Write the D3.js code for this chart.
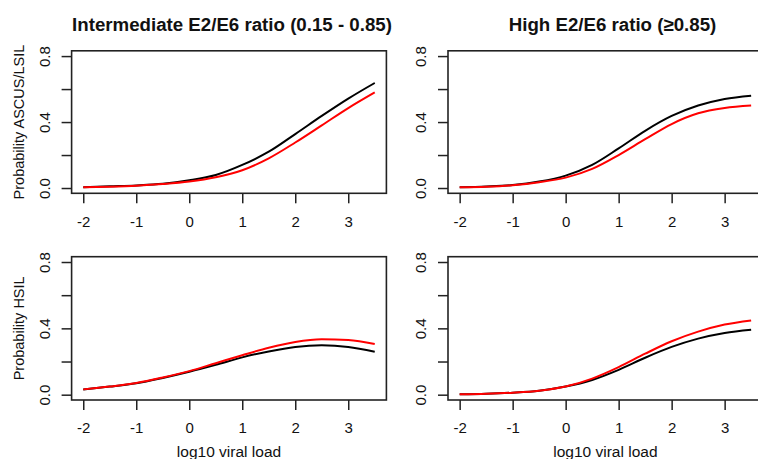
<!DOCTYPE html>
<html>
<head>
<meta charset="utf-8">
<script src="https://cdn.jsdelivr.net/npm/d3@7.9.0/dist/d3.min.js"></script>
<style>
  body { margin: 0; background: #fff; }
  svg { display: block; font-family: "Liberation Sans", Arial, sans-serif; }
</style>
</head>
<body>
<div id="chart"></div>
<script>
// Values, x = log10 viral load
const xValues = [-2, -1.5, -1, -0.5, 0, 0.5, 1, 1.5, 2, 2.5, 3, 3.5];
const xTicks = [-2, -1, 0, 1, 2, 3];
const yTicks = [0, 0.2, 0.4, 0.6, 0.8];
const yLabelled = [0, 0.4, 0.8];

const titles = ['Intermediate E2/E6 ratio (0.15 - 0.85)', 'High E2/E6 ratio (\u22650.85)'];
const rowLabels = ['Probability ASCUS/LSIL', 'Probability HSIL'];
const xLabel = 'log10 viral load';

// ASCUS/LSIL
const ascusInterBlack = [0.004, 0.010, 0.016, 0.026, 0.047, 0.079, 0.140, 0.220, 0.327, 0.437, 0.542, 0.637];
const ascusInterRed   = [0.004, 0.008, 0.014, 0.024, 0.039, 0.065, 0.108, 0.180, 0.276, 0.380, 0.485, 0.580];
const ascusHighBlack  = [0.004, 0.009, 0.018, 0.039, 0.075, 0.140, 0.240, 0.347, 0.437, 0.500, 0.540, 0.560];
const ascusHighRed    = [0.004, 0.008, 0.017, 0.035, 0.063, 0.116, 0.200, 0.296, 0.388, 0.453, 0.485, 0.500];
// HSIL
const hsilInterBlack  = [0.032, 0.049, 0.069, 0.101, 0.138, 0.180, 0.225, 0.261, 0.288, 0.298, 0.288, 0.259];
const hsilInterRed    = [0.032, 0.049, 0.071, 0.104, 0.142, 0.190, 0.238, 0.283, 0.318, 0.334, 0.330, 0.306];
const hsilHighBlack   = [0.002, 0.005, 0.012, 0.024, 0.049, 0.089, 0.150, 0.223, 0.288, 0.338, 0.372, 0.391];
const hsilHighRed     = [0.002, 0.005, 0.012, 0.024, 0.049, 0.097, 0.166, 0.247, 0.322, 0.380, 0.423, 0.448];

const panels = [
  { row: 0, col: 0, black: ascusInterBlack, red: ascusInterRed },
  { row: 0, col: 1, black: ascusHighBlack, red: ascusHighRed },
  { row: 1, col: 0, black: hsilInterBlack, red: hsilInterRed },
  { row: 1, col: 1, black: hsilHighBlack, red: hsilHighRed },
];

const width = 758;
const height = 459;

// plot regions (R style: 4% padding around data range)
const cols = [{ left: 71.6, right: 386.4, titleX: 232 }, { left: 448, right: 762.8, titleX: 612.5 }];
const rows = [{ top: 50.8, bottom: 193.3 }, { top: 256.7, bottom: 400 }];

const svg = d3.select('#chart')
  .append('svg')
  .attr('width', width)
  .attr('height', height);

panels.forEach((p) => {
  const c = cols[p.col];
  const r = rows[p.row];

  const x = d3.scaleLinear().domain([-2.22, 3.72]).range([c.left, c.right]);
  const y = d3.scaleLinear().domain([-0.032, 0.832]).range([r.bottom, r.top]);

  const g = svg.append('g');

  // x axis
  const xAxis = g.append('g')
    .attr('transform', `translate(0, ${r.bottom})`)
    .call(d3.axisBottom(x).tickValues(xTicks).tickSize(10).tickSizeOuter(0).tickFormat(d3.format('d')));
  xAxis.select('.domain').remove();
  xAxis.selectAll('line').attr('stroke', '#222').attr('stroke-width', 1.5);
  xAxis.selectAll('text')
    .attr('y', 28).attr('dy', '0.35em')
    .attr('fill', '#111')
    .style('font-size', '15px')
    .text((d) => d < 0 ? '-' + Math.abs(d) : d);

  // y axis
  const yAxis = g.append('g')
    .attr('transform', `translate(${c.left}, 0)`)
    .call(d3.axisLeft(y).tickValues(yTicks).tickSize(10).tickSizeOuter(0)
      .tickFormat((d) => yLabelled.includes(d) ? d3.format('.1f')(d) : ''));
  yAxis.select('.domain').remove();
  yAxis.selectAll('line').attr('stroke', '#222').attr('stroke-width', 1.5);
  yAxis.selectAll('text')
    .attr('x', null).attr('dy', '0.35em')
    .attr('text-anchor', 'middle')
    .attr('transform', 'translate(-27, 0) rotate(-90)')
    .attr('fill', '#111')
    .style('font-size', '15px');

  // curves
  const line = d3.line()
    .x((d, i) => x(xValues[i]))
    .y((d) => y(d))
    .curve(d3.curveMonotoneX);

  g.append('path')
    .datum(p.black)
    .attr('d', line)
    .attr('fill', 'none')
    .attr('stroke', '#000')
    .attr('stroke-width', 2);

  g.append('path')
    .datum(p.red)
    .attr('d', line)
    .attr('fill', 'none')
    .attr('stroke', '#ff0000')
    .attr('stroke-width', 2);

  // box
  g.append('rect')
    .attr('x', c.left)
    .attr('y', r.top)
    .attr('width', c.right - c.left)
    .attr('height', r.bottom - r.top)
    .attr('fill', 'none')
    .attr('stroke', '#222')
    .attr('stroke-width', 1.6);

  // titles on top row
  if (p.row === 0) {
    svg.append('text')
      .attr('x', c.titleX)
      .attr('y', 31)
      .attr('text-anchor', 'middle')
      .attr('font-weight', 'bold')
      .style('font-size', '18.7px')
      .attr('fill', '#111')
      .text(titles[p.col]);
  }

  // y label on left column
  if (p.col === 0) {
    svg.append('text')
      .attr('transform', `translate(18.5, ${(r.top + r.bottom) / 2}) rotate(-90)`)
      .attr('dy', '0.35em')
      .attr('text-anchor', 'middle')
      .style('font-size', '14.5px')
      .attr('fill', '#111')
      .text(rowLabels[p.row]);
  }

  // x label on bottom row
  if (p.row === 1) {
    svg.append('text')
      .attr('x', (c.left + Math.min(c.right, 762.8)) / 2)
      .attr('y', 452)
      .attr('dy', '0.35em')
      .attr('text-anchor', 'middle')
      .style('font-size', '15.5px')
      .attr('fill', '#111')
      .text(xLabel);
  }
});
</script>
</body>
</html>
